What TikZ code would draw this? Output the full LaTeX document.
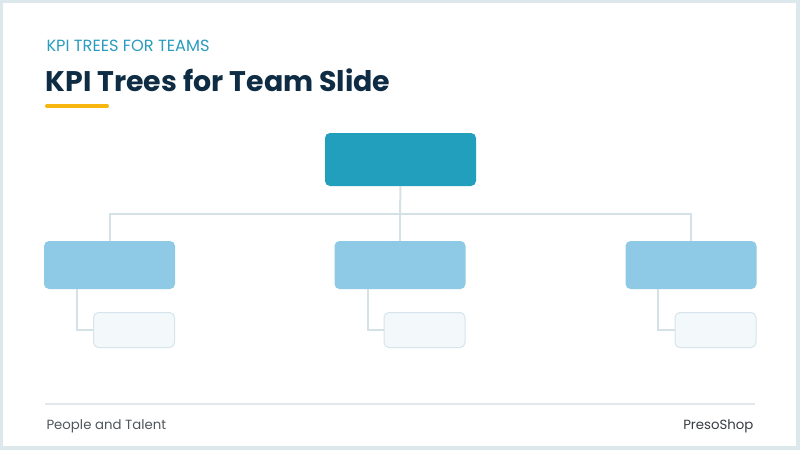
\documentclass[tikz,border=0pt]{standalone}
\usepackage{fontspec}
\setmainfont{Poppins}
\usepackage{tikz}

\definecolor{slideedge}{HTML}{DCE8EC}
\definecolor{kicker}{HTML}{2A9CBF}
\definecolor{headline}{HTML}{0E2C44}
\definecolor{accentbar}{HTML}{F6B60E}
\definecolor{rootfill}{HTML}{229FBD}
\definecolor{teamfill}{HTML}{8ECAE6}
\definecolor{kpifill}{HTML}{F3F8FB}
\definecolor{kpiedge}{HTML}{D6E5EC}
\definecolor{wire}{HTML}{D4E2E7}
\definecolor{rule}{HTML}{E2E9ED}
\definecolor{foot}{HTML}{50565C}

\tikzset{
  box/.style={rectangle, rounded corners=5pt, inner sep=0pt},
  rootbox/.style={box, fill=rootfill, minimum width=151pt, minimum height=53pt},
  teambox/.style={box, fill=teamfill, minimum width=131pt, minimum height=48pt},
  kpibox/.style={box, fill=kpifill, draw=kpiedge, line width=1pt, minimum width=81pt, minimum height=35pt},
  link/.style={draw=wire, line width=2pt},
}

\begin{document}
\begin{tikzpicture}[x=1pt, y=-1pt]
    \useasboundingbox (0,0) rectangle (800,450);
    \fill[slideedge] (0,0) rectangle (800,450);
    \fill[white] (3,3) rectangle (796,446);

    \node[anchor=base west, text=kicker, font=\fontsize{16.2}{18}\selectfont] (kicker) at (43,51) {KPI TREES FOR TEAMS};
    \node[anchor=base west, text=headline, font=\fontsize{28.4}{32}\bfseries] (title) at (42,91) {KPI Trees for Team Slide};
    \draw[accentbar, line width=4pt, line cap=round] (47,106) -- (107,106);

    \node[rootbox] (root) at (400.5,159.5) {};
    \coordinate (bus) at (400,214);

    \node[teambox] (teamA) at (109.5,265) {};
    \node[teambox] (teamB) at (400,265) {};
    \node[teambox] (teamC) at (691,265) {};

    \node[kpibox] (kpiA) at (134,330) {};
    \node[kpibox] (kpiB) at (424.5,330) {};
    \node[kpibox] (kpiC) at (715.5,330) {};

    \draw[link] (root.south) -- (bus);
    \draw[link] (bus) -| (teamA.north);
    \draw[link] (bus) -- (teamB.north);
    \draw[link] (bus) -| (teamC.north);

    \draw[link] ([xshift=-33pt]teamA.south) |- (kpiA.west);
    \draw[link] ([xshift=-32pt]teamB.south) |- (kpiB.west);
    \draw[link] ([xshift=-33pt]teamC.south) |- (kpiC.west);

    \draw[rule, line width=2pt] (45,404) -- (755,404);
    \node[anchor=base west, text=foot, font=\fontsize{13.3}{15}\selectfont] (unit) at (43,429) {People and Talent};
    \node[anchor=base east, text=foot!70!black, font=\fontsize{13.3}{15}\selectfont] (brand) at (757,429) {PresoShop};
\end{tikzpicture}
\end{document}
